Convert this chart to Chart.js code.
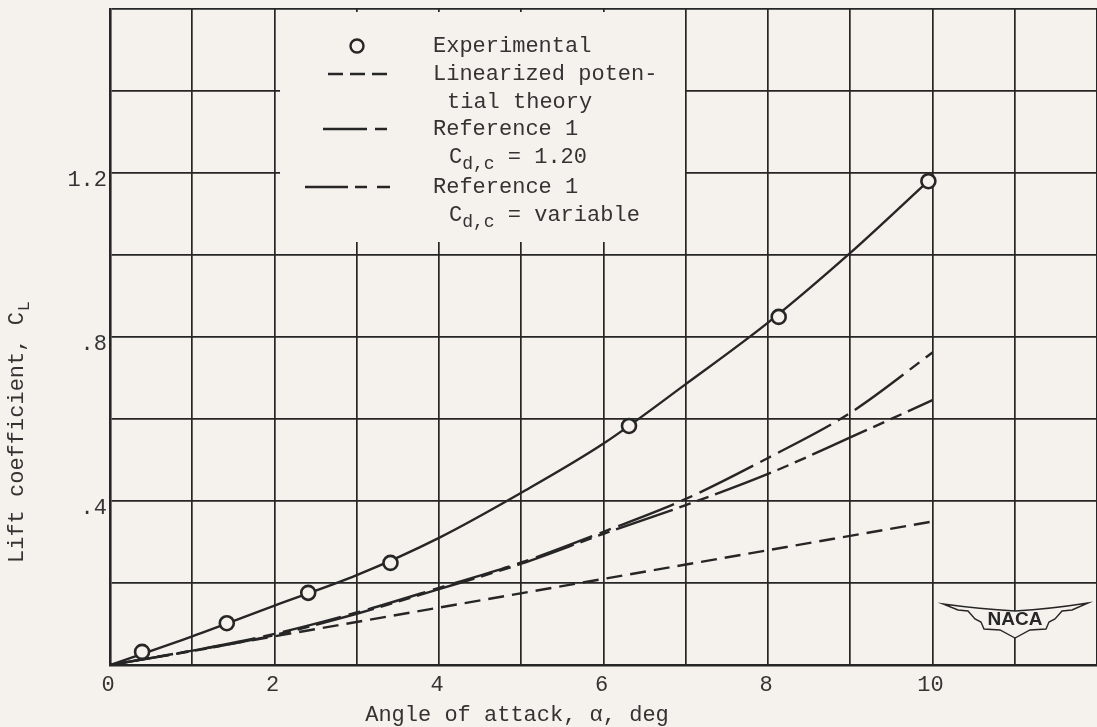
<!DOCTYPE html>
<html lang="en">
<head>
<meta charset="UTF-8">
<title>Lift coefficient vs angle of attack</title>
<script src="https://cdn.jsdelivr.net/npm/chart.js@4.4.0/dist/chart.umd.min.js"></script>
<style>
  html, body { margin: 0; padding: 0; background: #f5f2ed; }
  #chart { display: block; }
</style>
</head>
<body>
<canvas id="chart" width="1097" height="727"></canvas>
<script>
// values
const alphaExp = [0.39, 1.42, 2.41, 3.41, 6.31, 8.13, 9.95];
const clExp    = [0.032, 0.102, 0.176, 0.249, 0.583, 0.849, 1.18];

const alphaCurve = [0, 1, 2, 3, 4, 5, 6, 7, 8, 9, 10];
const clFaired   = [0, 0.07, 0.145, 0.219, 0.31, 0.42, 0.54, 0.685, 0.835, 1.005, 1.19];
const clRef120   = [0, 0.035, 0.076, 0.128, 0.188, 0.25, 0.325, 0.405, 0.505, 0.615, 0.762];
const clRefVar   = [0, 0.034, 0.073, 0.125, 0.185, 0.247, 0.32, 0.39, 0.466, 0.555, 0.646];

const alphaLin = [0, 10];
const clLin    = [0, 0.35];

const xTickText   = [0, 2, 4, 6, 8, 10];
const yTickValues = [0.4, 0.8, 1.2];
const yTickText   = ['.4', '.8', '1.2'];

const paper = '#f5f2ed';
const ink = '#262626';
const textInk = '#333333';
const mono = "'Liberation Mono', 'Courier New', monospace";

const pts = (xs, ys) => xs.map((x, i) => ({ x: x, y: ys[i] }));

// legend, axis titles and logo are drawn by hand because of the subscripts
const decorations = {
    id: 'decorations',
    beforeDraw(chart) {
        const c = chart.ctx;
        c.save();
        c.fillStyle = paper;
        c.fillRect(0, 0, chart.width, chart.height);
        c.restore();
    },
    afterDraw(chart) {
        const c = chart.ctx;

        // x axis title (sits left of the plot centre in the original)
        c.save();
        c.fillStyle = textInk;
        c.font = '22px ' + mono;
        c.textAlign = 'center';
        c.textBaseline = 'middle';
        c.fillText('Angle of attack, α, deg', 517, 715);
        c.restore();

        // y axis title
        c.save();
        c.translate(17, 563);
        c.rotate(-Math.PI / 2);
        c.fillStyle = textInk;
        c.textBaseline = 'middle';
        c.textAlign = 'left';
        c.font = '22px ' + mono;
        const t = 'Lift coefficient, C';
        c.fillText(t, 0, 0);
        const w = c.measureText(t).width;
        c.font = '17px ' + mono;
        c.fillText('L', w + 1, 7);
        c.restore();

        // legend box
        c.save();
        c.fillStyle = paper;
        c.fillRect(280, 12, 405, 230);
        c.strokeStyle = ink;
        c.lineWidth = 2.4;

        c.beginPath();
        c.arc(357, 46, 6.5, 0, Math.PI * 2);
        c.stroke();

        function sample(x0, x1, y, dash) {
            c.setLineDash(dash);
            c.beginPath();
            c.moveTo(x0, y);
            c.lineTo(x1, y);
            c.stroke();
        }
        sample(328, 387, 74, [15, 7]);
        sample(323, 387, 129, [44, 8, 12, 40]);
        sample(305, 390, 187, [43, 7, 12, 10, 13, 40]);
        c.setLineDash([]);

        c.fillStyle = textInk;
        c.textBaseline = 'middle';
        c.textAlign = 'left';
        c.font = '22px ' + mono;
        c.fillText('Experimental', 433, 46);
        c.fillText('Linearized poten-', 433, 74);
        c.fillText('tial theory', 447, 102);
        c.fillText('Reference 1', 433, 129);
        c.fillText('Reference 1', 433, 187);

        function subLine(x, y, rest) {
            c.font = '22px ' + mono;
            c.fillText('C', x, y);
            let xx = x + c.measureText('C').width;
            c.font = '18px ' + mono;
            c.fillText('d,c', xx, y + 7);
            xx += c.measureText('d,c').width;
            c.font = '22px ' + mono;
            c.fillText(rest, xx, y);
        }
        subLine(449, 157, ' = 1.20');
        subLine(449, 215, ' = variable');
        c.restore();

        // NACA wings
        c.save();
        c.beginPath();
        c.moveTo(943, 604);
        c.quadraticCurveTo(980, 609, 1015, 611);
        c.quadraticCurveTo(1050, 609, 1088, 603);
        c.lineTo(1072, 610);
        c.lineTo(1062, 611);
        c.lineTo(1055, 619);
        c.lineTo(1049, 622);
        c.lineTo(1046, 629);
        c.lineTo(1030, 630);
        c.lineTo(1015, 638);
        c.lineTo(1000, 630);
        c.lineTo(984, 629);
        c.lineTo(981, 622);
        c.lineTo(975, 619);
        c.lineTo(968, 611);
        c.lineTo(958, 610);
        c.closePath();
        c.fillStyle = paper;
        c.fill();
        c.strokeStyle = ink;
        c.lineWidth = 1.4;
        c.stroke();
        c.fillStyle = ink;
        c.font = "bold 19px 'Liberation Sans', Arial, sans-serif";
        c.textAlign = 'center';
        c.textBaseline = 'middle';
        c.fillText('NACA', 1015, 620);
        c.restore();
    }
};

const lineStyle = {
    showLine: true,
    pointRadius: 0,
    borderColor: ink,
    borderWidth: 2.4,
    fill: false,
    cubicInterpolationMode: 'monotone'
};

new Chart(document.getElementById('chart'), {
    type: 'scatter',
    data: {
        datasets: [
            {
                label: 'Experimental',
                data: pts(alphaExp, clExp),
                showLine: false,
                pointRadius: 7,
                pointBorderWidth: 2.6,
                pointBorderColor: ink,
                pointBackgroundColor: paper
            },
            Object.assign({ label: 'Faired', data: pts(alphaCurve, clFaired) }, lineStyle),
            Object.assign({ label: 'Linearized potential theory', data: pts(alphaLin, clLin), borderDash: [16, 8] }, lineStyle),
            Object.assign({ label: 'Reference 1, Cd,c = 1.20', data: pts(alphaCurve, clRef120), borderDash: [60, 8, 12, 8] }, lineStyle),
            Object.assign({ label: 'Reference 1, Cd,c = variable', data: pts(alphaCurve, clRefVar), borderDash: [60, 7, 12, 7, 12, 7] }, lineStyle)
        ]
    },
    options: {
        responsive: false,
        animation: false,
        devicePixelRatio: 1,
        layout: { autoPadding: false, padding: { top: 9, right: -1, bottom: 0, left: 0 } },
        plugins: { legend: { display: false }, tooltip: { enabled: false } },
        scales: {
            x: {
                type: 'linear',
                min: 0,
                max: 12,
                afterFit: s => {
                    s.height = 62;
                    s.paddingLeft = 0;
                    s.paddingRight = 0;
                },
                afterBuildTicks: s => { s.ticks = [...Array(13).keys()].map(v => ({ value: v })); },
                ticks: {
                    autoSkip: false,
                    maxRotation: 0,
                    padding: 0,
                    labelOffset: -2,
                    color: textInk,
                    font: { family: mono, size: 22, lineHeight: 1.8 },
                    callback: v => xTickText.includes(v) ? String(v) : ''
                },
                grid: { color: ink, lineWidth: 1.7, drawTicks: false },
                border: { color: ink, width: 2.6 }
            },
            y: {
                type: 'linear',
                min: 0,
                max: 1.6,
                afterFit: s => {
                    s.width = 110;
                    s.paddingTop = 0;
                    s.paddingBottom = 0;
                },
                afterBuildTicks: s => { s.ticks = [...Array(9).keys()].map(i => ({ value: i * 0.2 })); },
                ticks: {
                    autoSkip: false,
                    padding: 3,
                    labelOffset: 7,
                    color: textInk,
                    font: { family: mono, size: 22, lineHeight: 1 },
                    callback: v => {
                        const k = yTickValues.findIndex(t => Math.abs(t - v) < 1e-6);
                        return k >= 0 ? yTickText[k] : '';
                    }
                },
                grid: { color: ink, lineWidth: 1.7, drawTicks: false },
                border: { color: ink, width: 2.6 }
            }
        }
    },
    plugins: [decorations]
});
</script>
</body>
</html>
